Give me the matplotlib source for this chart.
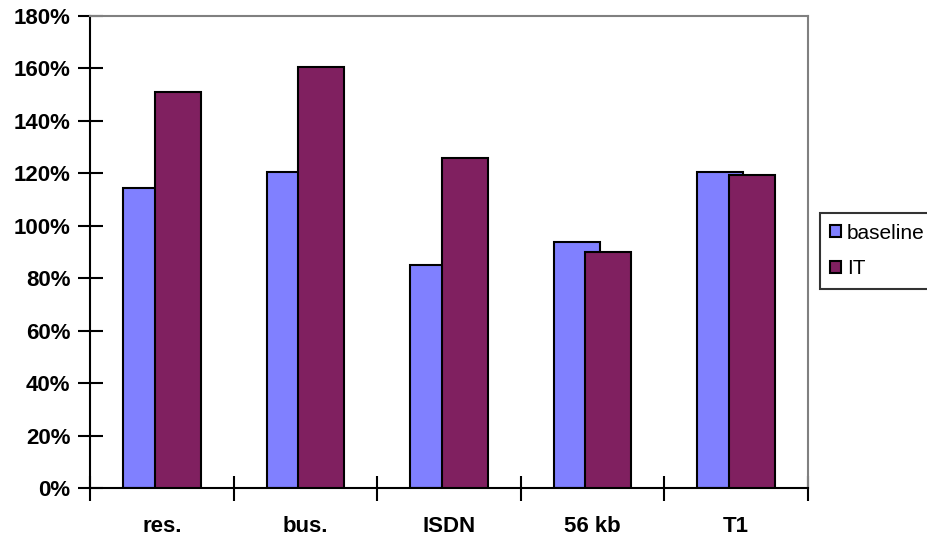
import matplotlib
matplotlib.use("Agg")
import matplotlib.pyplot as plt
import numpy as np

categories = ["res.", "bus.", "ISDN", "56 kb", "T1"]
baseline = [114.5, 120.5, 85.0, 94.0, 120.5]
it = [151.0, 160.5, 125.8, 90.0, 119.5]
yticks = [0, 20, 40, 60, 80, 100, 120, 140, 160, 180]

plt.rcParams['font.family'] = ['Liberation Sans', 'DejaVu Sans']

fig = plt.figure(figsize=(9.27, 5.37), dpi=100)
ax = fig.add_axes([90/927, 1-488/537, (808-90)/927, (488-16)/537])

x = np.arange(len(categories))
w = 0.32
off = 0.11
ax.bar(x - off, baseline, w, color="#8080FF", edgecolor="black", linewidth=1.5, zorder=2, label="baseline")
ax.bar(x + off, it, w, color="#802060", edgecolor="black", linewidth=1.5, zorder=3, label="IT")

ax.set_xlim(-0.5, len(categories) - 0.5)
ax.set_ylim(0, 180)
ax.set_yticks(yticks)
ax.set_yticklabels([f"{v}%" for v in yticks], fontsize=16, fontweight="bold")
ax.set_xticks(np.arange(len(categories) + 1) - 0.5, minor=False)
ax.set_xticklabels([])
ax.set_xticks(x, minor=True)
ax.set_xticklabels(categories, minor=True, fontsize=16, fontweight="bold")
ax.tick_params(axis="x", which="minor", length=0, pad=20)
ax.tick_params(axis="x", which="major", direction="inout", length=18, width=1.5)
ax.tick_params(axis="y", direction="inout", length=18, width=1.5, pad=5)

for s in ["left", "bottom"]:
    ax.spines[s].set_color("black")
    ax.spines[s].set_linewidth(1.5)
for s in ["top", "right"]:
    ax.spines[s].set_color("#808080")
    ax.spines[s].set_linewidth(1.5)

leg = ax.legend(loc="center left", bbox_to_anchor=(820/927, 1-251/537), bbox_transform=fig.transFigure,
                frameon=True, fancybox=False, edgecolor="black", fontsize=15,
                handlelength=0.5, handleheight=0.5, handletextpad=0.3, borderpad=0.5,
                labelspacing=0.8, borderaxespad=0)
leg.get_frame().set_linewidth(1.5)
for h in leg.legend_handles:
    h.set_linewidth(1.5)

fig.savefig("out.png", dpi=100)
